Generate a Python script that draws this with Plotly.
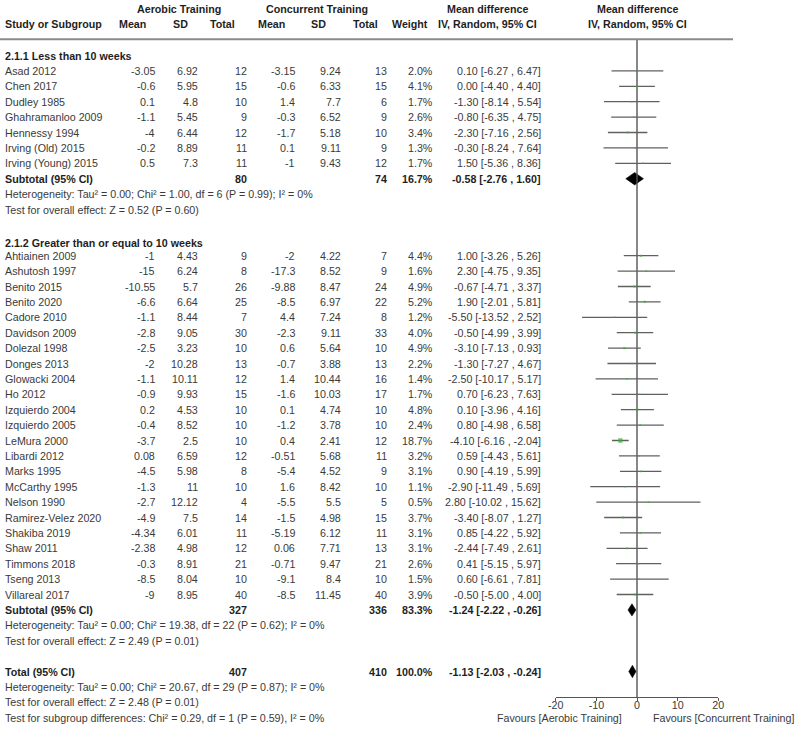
import plotly.graph_objects as go

# ---------------- data ----------------
studies1 = ["Asad 2012", "Chen 2017", "Dudley 1985", "Ghahramanloo 2009", "Hennessy 1994",
            "Irving (Old) 2015", "Irving (Young) 2015"]
ae_mean1 = [-3.05, -0.6, 0.1, -1.1, -4, -0.2, 0.5]
ae_sd1 = [6.92, 5.95, 4.8, 5.45, 6.44, 8.89, 7.3]
ae_n1 = [12, 15, 10, 9, 12, 11, 11]
co_mean1 = [-3.15, -0.6, 1.4, -0.3, -1.7, 0.1, -1]
co_sd1 = [9.24, 6.33, 7.7, 6.52, 5.18, 9.11, 9.43]
co_n1 = [13, 15, 6, 9, 10, 9, 12]
weight1 = [2.0, 4.1, 1.7, 2.6, 3.4, 1.3, 1.7]
md1 = [0.10, 0.00, -1.30, -0.80, -2.30, -0.30, 1.50]
lo1 = [-6.27, -4.40, -8.14, -6.35, -7.16, -8.24, -5.36]
hi1 = [6.47, 4.40, 5.54, 4.75, 2.56, 7.64, 8.36]

studies2 = ["Ahtiainen 2009", "Ashutosh 1997", "Benito 2015", "Benito 2020", "Cadore 2010",
            "Davidson 2009", "Dolezal 1998", "Donges 2013", "Glowacki 2004", "Ho 2012",
            "Izquierdo 2004", "Izquierdo 2005", "LeMura 2000", "Libardi 2012", "Marks 1995",
            "McCarthy 1995", "Nelson 1990", "Ramirez-Velez 2020", "Shakiba 2019", "Shaw 2011",
            "Timmons 2018", "Tseng 2013", "Villareal 2017"]
ae_mean2 = [-1, -15, -10.55, -6.6, -1.1, -2.8, -2.5, -2, -1.1, -0.9, 0.2, -0.4, -3.7, 0.08,
            -4.5, -1.3, -2.7, -4.9, -4.34, -2.38, -0.3, -8.5, -9]
ae_sd2 = [4.43, 6.24, 5.7, 6.64, 8.44, 9.05, 3.23, 10.28, 10.11, 9.93, 4.53, 8.52, 2.5, 6.59,
          5.98, 11, 12.12, 7.5, 6.01, 4.98, 8.91, 8.04, 8.95]
ae_n2 = [9, 8, 26, 25, 7, 30, 10, 13, 12, 15, 10, 10, 10, 12, 8, 10, 4, 14, 11, 12, 21, 10, 40]
co_mean2 = [-2, -17.3, -9.88, -8.5, 4.4, -2.3, 0.6, -0.7, 1.4, -1.6, 0.1, -1.2, 0.4, -0.51,
            -5.4, 1.6, -5.5, -1.5, -5.19, 0.06, -0.71, -9.1, -8.5]
co_sd2 = [4.22, 8.52, 8.47, 6.97, 7.24, 9.11, 5.64, 3.88, 10.44, 10.03, 4.74, 3.78, 2.41, 5.68,
          4.52, 8.42, 5.5, 4.98, 6.12, 7.71, 9.47, 8.4, 11.45]
co_n2 = [7, 9, 24, 22, 8, 33, 10, 13, 16, 17, 10, 10, 12, 11, 9, 10, 5, 15, 11, 13, 21, 10, 40]
weight2 = [4.4, 1.6, 4.9, 5.2, 1.2, 4.0, 4.9, 2.2, 1.4, 1.7, 4.8, 2.4, 18.7, 3.2, 3.1, 1.1, 0.5,
           3.7, 3.1, 3.1, 2.6, 1.5, 3.9]
md2 = [1.00, 2.30, -0.67, 1.90, -5.50, -0.50, -3.10, -1.30, -2.50, 0.70, 0.10, 0.80, -4.10, 0.59,
       0.90, -2.90, 2.80, -3.40, 0.85, -2.44, 0.41, 0.60, -0.50]
lo2 = [-3.26, -4.75, -4.71, -2.01, -13.52, -4.99, -7.13, -7.27, -10.17, -6.23, -3.96, -4.98,
       -6.16, -4.43, -4.19, -11.49, -10.02, -8.07, -4.22, -7.49, -5.15, -6.61, -5.00]
hi2 = [5.26, 9.35, 3.37, 5.81, 2.52, 3.99, 0.93, 4.67, 5.17, 7.63, 4.16, 6.58, -2.04, 5.61, 5.99,
       5.69, 15.62, 1.27, 5.92, 2.61, 5.97, 7.81, 4.00]

group_titles = ["2.1.1 Less than 10 weeks", "2.1.2 Greater than or equal to 10 weeks"]
sub_labels = ["Subtotal (95% CI)", "Subtotal (95% CI)", "Total (95% CI)"]
sub_ae_n = [80, 327, 407]
sub_co_n = [74, 336, 410]
sub_weight = [16.7, 83.3, 100.0]
sub_md = [-0.58, -1.24, -1.13]
sub_lo = [-2.76, -2.22, -2.03]
sub_hi = [1.60, -0.26, -0.24]
sub_notes = [
    ["Heterogeneity: Tau² = 0.00; Chi² = 1.00, df = 6 (P = 0.99); I² = 0%",
     "Test for overall effect: Z = 0.52 (P = 0.60)"],
    ["Heterogeneity: Tau² = 0.00; Chi² = 19.38, df = 22 (P = 0.62); I² = 0%",
     "Test for overall effect: Z = 2.49 (P = 0.01)"],
    ["Heterogeneity: Tau² = 0.00; Chi² = 20.67, df = 29 (P = 0.87); I² = 0%",
     "Test for overall effect: Z = 2.48 (P = 0.01)",
     "Test for subgroup differences: Chi² = 0.29, df = 1 (P = 0.59), I² = 0%"],
]
tick_vals = [-20, -10, 0, 10, 20]
tick_text = ["-20", "-10", "0", "10", "20"]
favours_left = "Favours [Aerobic Training]"
favours_right = "Favours [Concurrent Training]"

# ---------------- layout helpers ----------------
W, H = 800, 732
FONT = "Liberation Sans, Arial, sans-serif"
FS = 10.7
TXT = "#3a3a3a"
BOLD = "#1e1e1e"
AXIS_Y = 697
HEAD_LINE_Y = 39.3


def rowy(k):
    return 55.5 + 15.4 * k


def fmt(v):
    return f"{v:g}"


fig = go.Figure()


def txt(x, y, s, anchor="left", bold=False):
    fig.add_annotation(x=x / W, y=y, xref="paper", yref="y",
                       text=f"<b>{s}</b>" if bold else s, showarrow=False,
                       xanchor=anchor, yanchor="middle", borderpad=0,
                       font=dict(family=FONT, size=FS, color=BOLD if bold else TXT))


# column right edges
C_AEM, C_AESD, C_AEN = 156, 199, 248
C_COM, C_COSD, C_CON = 296, 341.5, 387.5
C_W, C_CI = 434, 541.5

# headers
txt(179, 9.3, "Aerobic Training", "center", True)
txt(317, 9.3, "Concurrent Training", "center", True)
txt(487.5, 9.3, "Mean difference", "center", True)
txt(637.5, 9.3, "Mean difference", "center", True)
txt(4, 24.3, "Study or Subgroup", "left", True)
txt(132.7, 24.3, "Mean", "center", True)
txt(180, 24.3, "SD", "center", True)
txt(222, 24.3, "Total", "center", True)
txt(271.7, 24.3, "Mean", "center", True)
txt(318, 24.3, "SD", "center", True)
txt(365, 24.3, "Total", "center", True)
txt(429, 24.3, "Weight", "right", True)
txt(487.5, 24.3, "IV, Random, 95% CI", "center", True)
txt(637.5, 24.3, "IV, Random, 95% CI", "center", True)

fig.add_shape(type="line", xref="paper", yref="y", x0=0, x1=733 / W,
              y0=HEAD_LINE_Y, y1=HEAD_LINE_Y, line=dict(color="#8a8a8a", width=2))

groups = [
    (studies1, ae_mean1, ae_sd1, ae_n1, co_mean1, co_sd1, co_n1, weight1, md1, lo1, hi1),
    (studies2, ae_mean2, ae_sd2, ae_n2, co_mean2, co_sd2, co_n2, weight2, md2, lo2, hi2),
]
group_start = [0, 12]

ci_x, ci_y, mk_x, mk_y, mk_s = [], [], [], [], []
sub_rows = []
for g, (names, am, asd, an, cm, csd, cn, w, md, lo, hi) in enumerate(groups):
    k0 = group_start[g]
    txt(4, rowy(k0 + (0.15 if g else 0)), group_titles[g], "left", True)
    for i in range(len(names)):
        y = rowy(k0 + 1 + i)
        txt(4, y, names[i])
        txt(C_AEM, y, fmt(am[i]), "right")
        txt(C_AESD, y, fmt(asd[i]), "right")
        txt(C_AEN, y, fmt(an[i]), "right")
        txt(C_COM, y, fmt(cm[i]), "right")
        txt(C_COSD, y, fmt(csd[i]), "right")
        txt(C_CON, y, fmt(cn[i]), "right")
        txt(C_W, y, f"{w[i]:.1f}%", "right")
        txt(C_CI, y, f"{md[i]:.2f} [{lo[i]:.2f} , {hi[i]:.2f}]", "right")
        ci_x += [lo[i], hi[i], None]
        ci_y += [y, y, None]
        mk_x.append(md[i])
        mk_y.append(y)
        mk_s.append(max(1.6, 4.3 * (w[i] / 18.7) ** 0.5))
    sub_rows.append(k0 + 1 + len(names))
sub_rows.append(40)

for j, k in enumerate(sub_rows):
    y = rowy(k)
    txt(4, y, sub_labels[j], "left", True)
    txt(C_AEN, y, fmt(sub_ae_n[j]), "right", True)
    txt(C_CON, y, fmt(sub_co_n[j]), "right", True)
    txt(C_W, y, f"{sub_weight[j]:.1f}%", "right", True)
    txt(C_CI, y, f"{sub_md[j]:.2f} [{sub_lo[j]:.2f} , {sub_hi[j]:.2f}]", "right", True)
    for n, note in enumerate(sub_notes[j]):
        txt(4, rowy(k + 1 + n), note)
    hh = 6.2
    fig.add_trace(go.Scatter(
        x=[sub_lo[j], sub_md[j], sub_hi[j], sub_md[j], sub_lo[j]],
        y=[y, y - hh, y, y + hh, y], mode="lines", fill="toself",
        fillcolor="black", line=dict(color="black", width=0.5), hoverinfo="skip"))

# zero line
fig.add_trace(go.Scatter(x=[0, 0], y=[HEAD_LINE_Y, AXIS_Y], mode="lines",
                         line=dict(color="#555555", width=1.4), hoverinfo="skip"))
# CI lines
fig.add_trace(go.Scatter(x=ci_x, y=ci_y, mode="lines",
                         line=dict(color="#606060", width=1.3), hoverinfo="skip"))
# point estimates
fig.add_trace(go.Scatter(x=mk_x, y=mk_y, mode="markers",
                         marker=dict(symbol="square", size=mk_s, color="#33b233",
                                     line=dict(width=0)), hoverinfo="skip"))

txt(623, 718.3, favours_left, "right")
txt(652, 718.3, favours_right, "left")

fig.update_layout(
    width=W, height=H, margin=dict(l=0, r=0, t=0, b=0),
    paper_bgcolor="white", plot_bgcolor="white", showlegend=False,
    xaxis=dict(domain=[555.7 / W, 718.3 / W], range=[-20, 20], anchor="free",
               position=1 - AXIS_Y / H, showline=True, linecolor="#555555", linewidth=1.3,
               ticks="outside", ticklen=3, tickwidth=1.3, tickcolor="#555555",
               tickvals=tick_vals, ticktext=tick_text, ticklabelstandoff=-5,
               showgrid=False, zeroline=False,
               tickfont=dict(family=FONT, size=FS, color=TXT), automargin=False,
               fixedrange=True),
    yaxis=dict(domain=[0, 1], range=[H, 0], visible=False, fixedrange=True),
)

fig.write_html("out.html", config={"displayModeBar": False},
               post_script="document.body.style.margin='0';document.body.style.overflow='hidden';")
